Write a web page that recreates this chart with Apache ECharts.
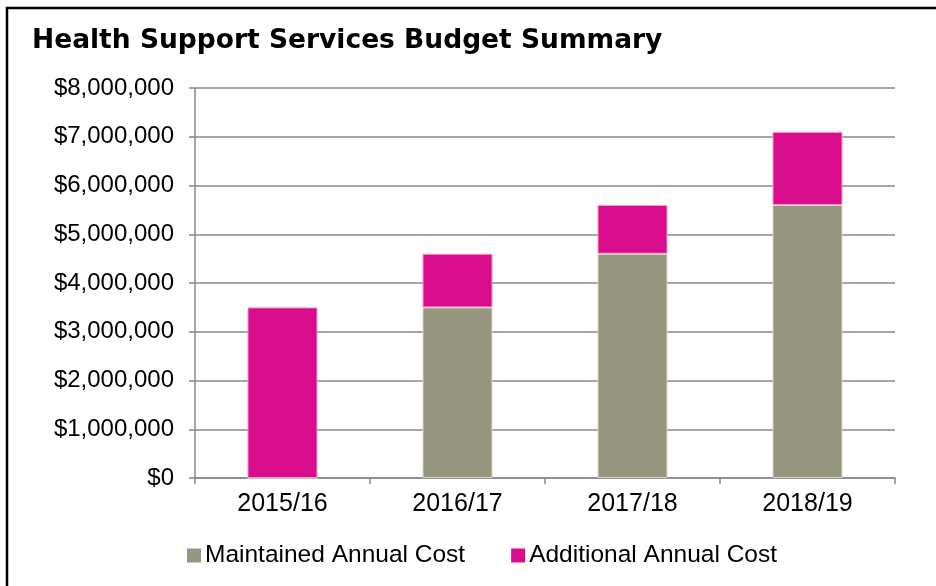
<!DOCTYPE html>
<html>
<head>
<meta charset="utf-8">
<script src="https://cdn.jsdelivr.net/npm/echarts@6/dist/echarts.min.js"></script>
<style>
html,body{margin:0;padding:0;background:#fff;}
#chart{width:936px;height:586px;}
</style>
</head>
<body>
<div id="chart"></div>
<script>
const titleText = 'Health Support Services Budget Summary';
const categories = ['2015/16', '2016/17', '2017/18', '2018/19'];
const maintainedName = 'Maintained Annual Cost';
const additionalName = 'Additional Annual Cost';
const maintained = [0, 3500000, 4600000, 5600000];
const additional = [3500000, 1100000, 1000000, 1500000];

const chart = echarts.init(document.getElementById('chart'));
const fmt = v => '$' + Math.round(v).toString().replace(/\B(?=(\d{3})+(?!\d))/g, ',');
chart.setOption({
  animation: false,
  backgroundColor: '#fff',
  textStyle: { fontFamily: 'Liberation Sans, Arial, sans-serif' },
  graphic: [{
    type: 'polyline',
    shape: { points: [[7, 600], [7, 8], [940, 8]] },
    style: { stroke: '#000', lineWidth: 2.5, fill: null },
    silent: true
  }],
  title: {
    text: titleText,
    left: 32, top: 28, padding: 0,
    textStyle: { fontFamily: 'DejaVu Sans, sans-serif', fontWeight: 'bold', fontSize: 26.5, color: '#000' }
  },
  legend: {
    data: [maintainedName, additionalName],
    top: 543, left: 187, padding: 0,
    itemWidth: 14, itemHeight: 14, itemGap: 46,
    icon: 'rect',
    itemStyle: { borderWidth: 0 },
    textStyle: { fontSize: 24.5, color: '#000', padding: [0, 0, 0, -1] }
  },
  grid: { left: 195, right: 41, top: 88, bottom: 108, containLabel: false },
  xAxis: {
    type: 'category',
    data: categories,
    axisLine: { lineStyle: { color: '#888', width: 1.5 } },
    axisTick: { show: true, length: 6, lineStyle: { color: '#888', width: 1.5 } },
    axisLabel: { fontSize: 25, color: '#000', margin: 14 }
  },
  yAxis: {
    type: 'value',
    min: 0, max: 8000000, interval: 1000000,
    axisLine: { show: true, lineStyle: { color: '#888', width: 1.5 } },
    axisTick: { show: true, length: 6, lineStyle: { color: '#888', width: 1.5 } },
    splitLine: { lineStyle: { color: '#888', width: 1.5 } },
    axisLabel: { fontSize: 24, color: '#000', margin: 21, formatter: fmt }
  },
  series: [
    {
      name: maintainedName, type: 'bar', stack: 'total', data: maintained,
      barWidth: '40%',
      itemStyle: { color: '#96957F', borderColor: '#d8d8cc', borderWidth: 1 }
    },
    {
      name: additionalName, type: 'bar', stack: 'total', data: additional,
      barWidth: '40%',
      itemStyle: { color: '#D90D8C', borderColor: '#f39ac8', borderWidth: 1 }
    }
  ]
});
</script>
</body>
</html>
